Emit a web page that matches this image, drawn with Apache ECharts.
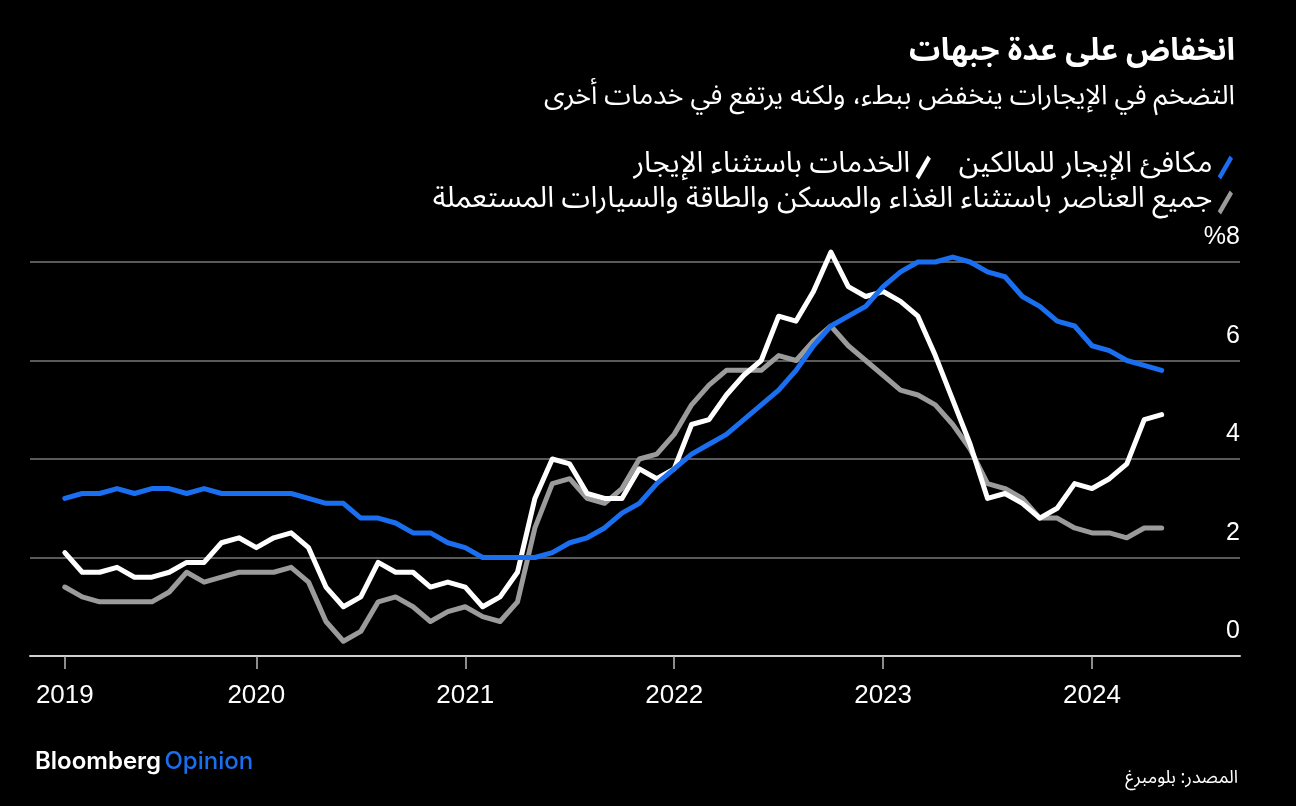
<!DOCTYPE html>
<html><head><meta charset="utf-8">
<script src="https://cdn.jsdelivr.net/npm/echarts@6/dist/echarts.min.js"></script>
<style>html,body{margin:0;padding:0;background:#000;}#c{width:1296px;height:806px;}</style>
</head><body><div id="c"></div>
<script>
const months = [
  '2019-02','2019-03','2019-04','2019-05','2019-06','2019-07','2019-08','2019-09','2019-10','2019-11','2019-12',
  '2020-01','2020-02','2020-03','2020-04','2020-05','2020-06','2020-07','2020-08','2020-09','2020-10','2020-11','2020-12',
  '2021-01','2021-02','2021-03','2021-04','2021-05','2021-06','2021-07','2021-08','2021-09','2021-10','2021-11','2021-12',
  '2022-01','2022-02','2022-03','2022-04','2022-05','2022-06','2022-07','2022-08','2022-09','2022-10','2022-11','2022-12',
  '2023-01','2023-02','2023-03','2023-04','2023-05','2023-06','2023-07','2023-08','2023-09','2023-10','2023-11','2023-12',
  '2024-01','2024-02','2024-03','2024-04','2024-05'
];
const yearTickIdx = [0, 11, 23, 35, 47, 59];
const yearLabels = ['2019','2020','2021','2022','2023','2024'];
const yTickLabels = ['0','2','4','6','%8'];

const oer = [3.2,3.3,3.3,3.4,3.3,3.4,3.4,3.3,3.4,3.3,3.3,
  3.3,3.3,3.3,3.2,3.1,3.1,2.8,2.8,2.7,2.5,2.5,2.3,
  2.2,2.0,2.0,2.0,2.0,2.1,2.3,2.4,2.6,2.9,3.1,3.5,
  3.8,4.1,4.3,4.5,4.8,5.1,5.4,5.8,6.3,6.7,6.9,7.1,
  7.5,7.8,8.0,8.0,8.1,8.0,7.8,7.7,7.3,7.1,6.8,6.7,
  6.3,6.2,6.0,5.9,5.8];
const servicesExRent = [2.1,1.7,1.7,1.8,1.6,1.6,1.7,1.9,1.9,2.3,2.4,
  2.2,2.4,2.5,2.2,1.4,1.0,1.2,1.9,1.7,1.7,1.4,1.5,
  1.4,1.0,1.2,1.7,3.2,4.0,3.9,3.3,3.2,3.2,3.8,3.6,
  3.8,4.7,4.8,5.3,5.7,6.0,6.9,6.8,7.4,8.2,7.5,7.3,
  7.4,7.2,6.9,6.1,5.2,4.3,3.2,3.3,3.1,2.8,3.0,3.5,
  3.4,3.6,3.9,4.8,4.9];
const coreExShelterCars = [1.4,1.2,1.1,1.1,1.1,1.1,1.3,1.7,1.5,1.6,1.7,
  1.7,1.7,1.8,1.5,0.7,0.3,0.5,1.1,1.2,1.0,0.7,0.9,
  1.0,0.8,0.7,1.1,2.6,3.5,3.6,3.2,3.1,3.4,4.0,4.1,
  4.5,5.1,5.5,5.8,5.8,5.8,6.1,6.0,6.4,6.7,6.3,6.0,
  5.7,5.4,5.3,5.1,4.7,4.2,3.5,3.4,3.2,2.8,2.8,2.6,
  2.5,2.5,2.4,2.6,2.6];

const seriesNames = [
  'مكافئ الإيجار للمالكين',
  'الخدمات باستثناء الإيجار',
  'جميع العناصر باستثناء الغذاء والمسكن والطاقة والسيارات المستعملة'
];
const titleText = 'انخفاض على عدة جبهات';
const subtitleText = 'التضخم في الإيجارات ينخفض ببطء، ولكنه يرتفع في خدمات أخرى';
const sourceText = 'المصدر: بلومبرغ';

const AR = "'Noto Sans Arabic','Noto Naskh Arabic','DejaVu Sans',sans-serif";
const LAT = "'Liberation Sans',Arial,sans-serif";
const BLUE = '#1a6ff0';
const GRAY = '#9b9b9b';
const slash = 'path://M0,19 L11,0 L14,3 L3,22 Z';

const toPts = arr => arr.map((v, i) => [i, v]);

const chart = echarts.init(document.getElementById('c'), null, {renderer: 'canvas'});
chart.setOption({
  backgroundColor: '#000',
  animation: false,
  title: [
    {text: titleText, right: 56, top: 35,
     textStyle: {color: '#fff', fontSize: 31, fontWeight: 'bold', fontFamily: AR}},
    {text: subtitleText, right: 56, top: 81,
     textStyle: {color: '#fff', fontSize: 27, fontWeight: 'normal', fontFamily: AR}}
  ],
  legend: [
    {data: [seriesNames[1], seriesNames[0]], right: 58, top: 148, align: 'right',
     icon: slash, itemWidth: 16, itemHeight: 24, itemGap: 28,
     textStyle: {color: '#fff', fontSize: 29, fontFamily: AR}},
    {data: [seriesNames[2]], right: 58, top: 183, align: 'right',
     icon: slash, itemWidth: 16, itemHeight: 24,
     textStyle: {color: '#fff', fontSize: 29, fontFamily: AR}}
  ],
  grid: {left: 30, right: 56, top: 262, bottom: 150},
  xAxis: {
    type: 'value', min: -2, max: 67.5,
    splitLine: {show: false},
    axisLine: {show: true, lineStyle: {color: '#d0d0d0', width: 2}},
    axisTick: {show: true, customValues: yearTickIdx, length: 13, lineStyle: {color: '#bbb', width: 1.5}},
    axisLabel: {customValues: yearTickIdx, margin: 27, color: '#fff', fontSize: 26, fontFamily: LAT,
      formatter: v => yearLabels[yearTickIdx.indexOf(Math.round(v))] || ''}
  },
  yAxis: {
    type: 'value', position: 'right', min: 0, max: 8, interval: 2,
    axisLine: {show: false}, axisTick: {show: false},
    splitLine: {show: true, lineStyle: {color: '#5a5a5a', width: 2}},
    axisLabel: {inside: true, margin: 0, color: '#fff', fontSize: 25, fontFamily: LAT,
      verticalAlign: 'bottom', padding: [0, 0, 12, 0],
      formatter: v => yTickLabels[Math.round(v / 2)]}
  },
  series: [
    {name: seriesNames[2], type: 'line', data: toPts(coreExShelterCars), showSymbol: false, z: 2, clip: false,
     lineStyle: {color: GRAY, width: 5, cap: 'round', join: 'round'}, itemStyle: {color: GRAY}},
    {name: seriesNames[1], type: 'line', data: toPts(servicesExRent), showSymbol: false, z: 3, clip: false,
     lineStyle: {color: '#fff', width: 5, cap: 'round', join: 'round'}, itemStyle: {color: '#fff'}},
    {name: seriesNames[0], type: 'line', data: toPts(oer), showSymbol: false, z: 4, clip: false,
     lineStyle: {color: BLUE, width: 5, cap: 'round', join: 'round'}, itemStyle: {color: BLUE}}
  ],
  graphic: [
    {type: 'text', left: 35, top: 750, style: {
      text: '{a|Bloomberg} {b|Opinion}',
      rich: {
        a: {fill: '#fff', fontSize: 24, fontWeight: 600, fontFamily: "Inter,'Noto Sans',sans-serif"},
        b: {fill: BLUE, fontSize: 24, fontWeight: 500, fontFamily: "Inter,'Noto Sans',sans-serif"}
      }}},
    {type: 'text', right: 58, top: 771, style: {
      text: sourceText, fill: '#fff', fontSize: 18, fontFamily: AR, align: 'right'}}
  ]
});
</script>
</body></html>
